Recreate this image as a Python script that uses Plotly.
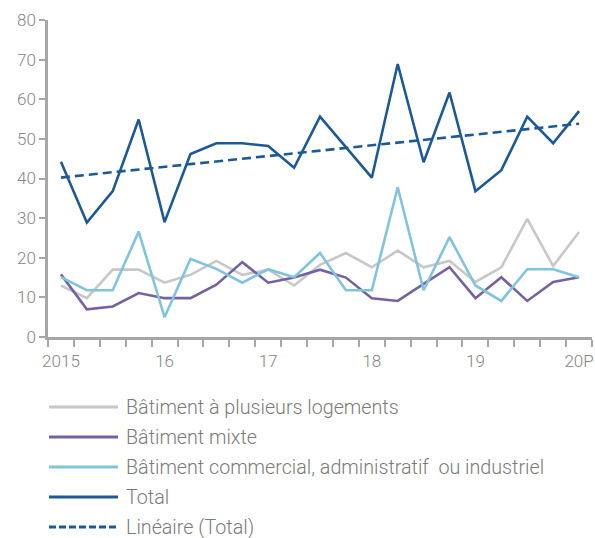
import numpy as np
import plotly.graph_objects as go

quarters = ["2015T1","2015T2","2015T3","2015T4","2016T1","2016T2","2016T3","2016T4",
            "2017T1","2017T2","2017T3","2017T4","2018T1","2018T2","2018T3","2018T4",
            "2019T1","2019T2","2019T3","2019T4","2020T1"]
tick_labels = ["2015","","","","16","","","","17","","","","18","","","","19","","","","20P"]

plusieurs_logements = [13.0, 9.8, 17.0, 17.0, 13.7, 15.7, 19.2, 15.7, 17.0, 13.0, 18.2,
                       21.2, 17.6, 21.8, 17.6, 19.2, 13.9, 17.6, 29.8, 17.9, 26.5]
mixte = [15.8, 7.0, 7.7, 11.1, 9.8, 9.8, 13.2, 18.9, 13.7, 15.0, 17.0,
         15.0, 9.8, 9.1, 13.4, 17.6, 9.8, 15.1, 9.1, 13.9, 15.1]
commercial = [15.1, 11.8, 11.8, 26.6, 5.0, 19.7, 17.2, 13.7, 17.1, 15.1, 21.2,
              11.8, 11.8, 37.8, 11.8, 25.2, 13.0, 9.1, 17.1, 17.1, 15.1]
total = [44.2, 28.9, 36.8, 54.9, 29.0, 46.2, 48.9, 48.9, 48.2, 42.7, 55.6,
         47.9, 40.2, 68.9, 44.1, 61.7, 36.8, 42.1, 55.6, 48.9, 57.0]

names = ["Bâtiment à plusieurs logements", "Bâtiment mixte",
         "Bâtiment commercial, administratif  ou industriel", "Total", "Linéaire (Total)"]
colors = ["#c8c8c8", "#76629f", "#80c4de", "#1c5a96", "#1c5a96"]

x = np.arange(len(quarters))
coef = np.polyfit(x, total, 1)
trend = np.polyval(coef, x)

FONT = "Roboto"
TXT = "#858585"
AX = "#a6a6a6"

fig = go.Figure()
series = [plusieurs_logements, mixte, commercial, total]
for vals, nm, col in zip(series, names[:4], colors[:4]):
    fig.add_trace(go.Scatter(x=x, y=vals, mode="lines", name=nm,
                             line=dict(color=col, width=2.6), showlegend=False,
                             customdata=quarters, hovertemplate="%{customdata}: %{y}<extra>"+nm+"</extra>"))
fig.add_trace(go.Scatter(x=x, y=trend, mode="lines", name=names[4],
                         line=dict(color=colors[4], width=2.6, dash="9px,5px"), showlegend=False))

W, H = 595, 538
L, R, T, B = 48, 3, 20, 201
pw, ph = W - L - R, H - T - B

def px_to_paper(xp, yp):
    return (xp - L) / pw, (H - B - yp) / ph

# manual legend (decorative)
rows_y = [407, 437, 467, 497, 527]
for i, (nm, col) in enumerate(zip(names, colors)):
    x0, y0 = px_to_paper(49, rows_y[i])
    x1, _ = px_to_paper(118, rows_y[i])
    fig.add_shape(type="line", xref="paper", yref="paper", x0=x0, x1=x1, y0=y0, y1=y0,
                  line=dict(color=col, width=3, dash="7px,3px" if i == 4 else "solid"))
    tx, ty = px_to_paper(124, rows_y[i])
    fig.add_annotation(xref="paper", yref="paper", x=tx, y=ty, text=nm, showarrow=False,
                       xanchor="left", yanchor="middle",
                       font=dict(family=FONT, size=19.7, color="#7a7a7a", weight=300))

fig.update_layout(
    width=W, height=H, margin=dict(l=L, r=R, t=T, b=B, autoexpand=False),
    paper_bgcolor="white", plot_bgcolor="white",
    font=dict(family=FONT, size=17, color=TXT),
    showlegend=False,
)
fig.update_xaxes(
    automargin=False,
    range=[-0.5, len(quarters) - 0.5],
    tickmode="array", tickvals=[i for i, t in enumerate(tick_labels) if t],
    ticktext=[t for t in tick_labels if t],
    ticks="outside", ticklen=7, tickcolor="rgba(0,0,0,0)",
    ticklabeloverflow="allow",
    minor=dict(tickmode="array", tickvals=[i - 0.5 for i in range(len(quarters) + 1)],
               ticks="outside", ticklen=7, tickwidth=2, tickcolor=AX),
    showline=True, linecolor=AX, linewidth=2.5, showgrid=False, zeroline=False,
    tickfont=dict(family=FONT, size=17, color=TXT, weight=300),
)
fig.update_yaxes(
    automargin=False,
    range=[0, 80], tickmode="linear", tick0=0, dtick=10,
    ticks="outside", ticklen=6, tickwidth=2, tickcolor=AX,
    showline=True, linecolor=AX, linewidth=2.5, showgrid=False, zeroline=False,
    tickfont=dict(family=FONT, size=17, color=TXT, weight=300),
)

fig.write_html("out.html", config={"displayModeBar": False},
               post_script="document.body.style.margin='0';document.body.style.overflow='hidden';")
